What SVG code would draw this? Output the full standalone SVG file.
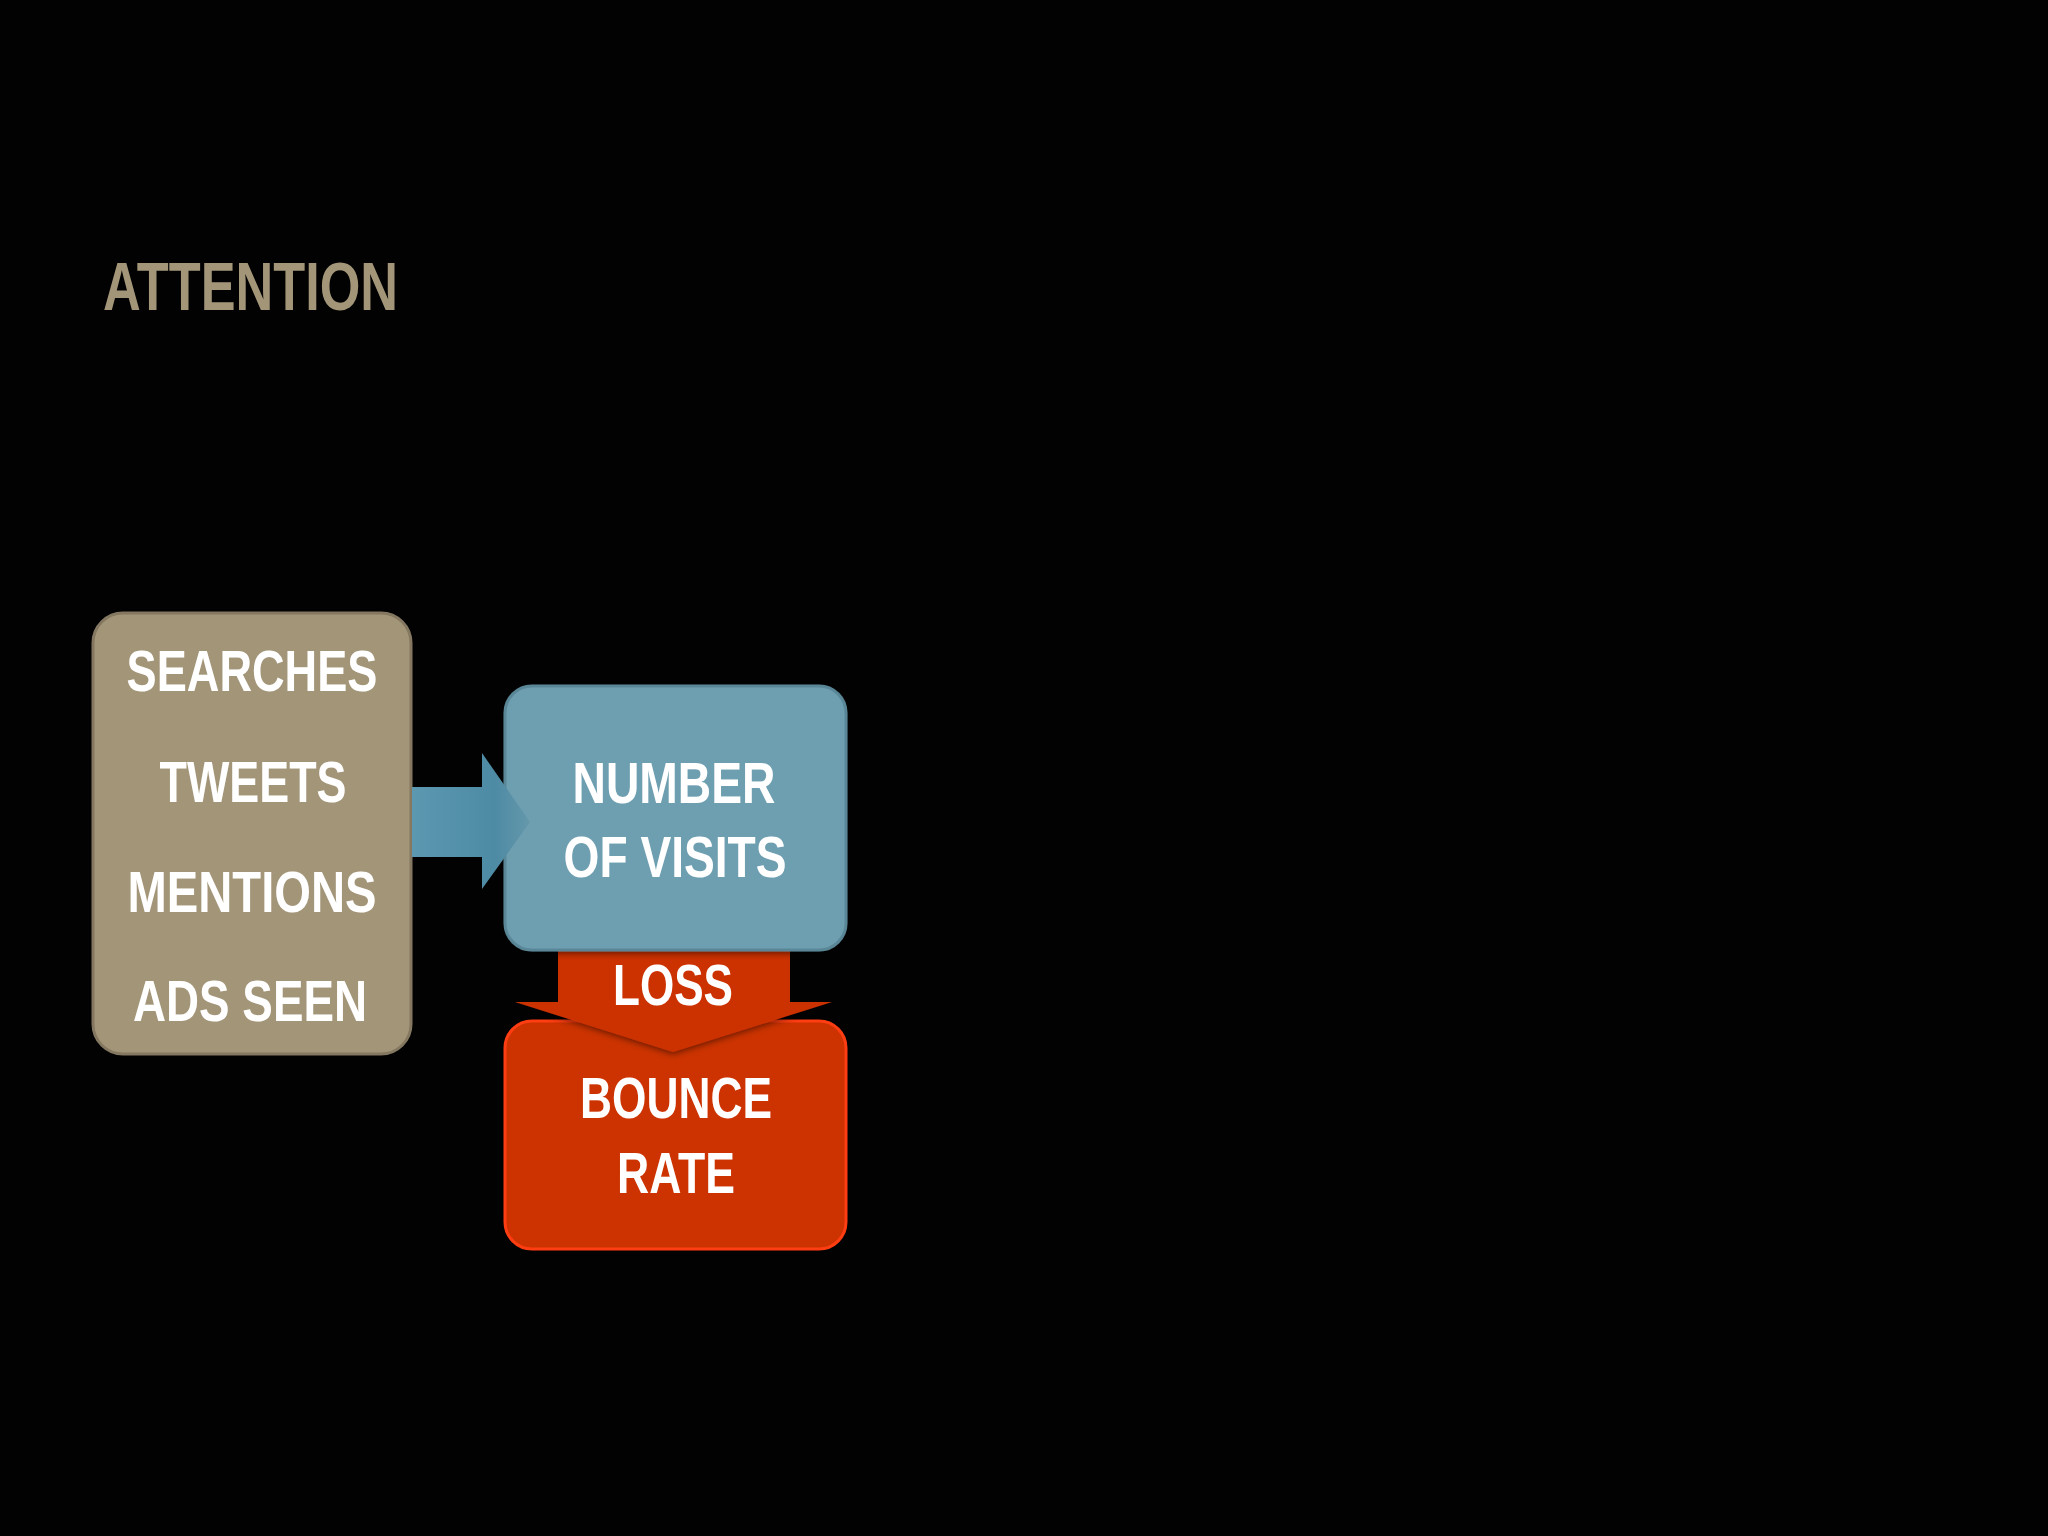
<svg xmlns="http://www.w3.org/2000/svg" width="2048" height="1536" viewBox="0 0 2048 1536">
<style>
.t{font-family:"Liberation Sans",Arial,sans-serif;font-weight:bold;fill:#ffffff;font-size:57px;text-anchor:middle}
.title{font-family:"Liberation Sans",Arial,sans-serif;font-weight:bold;fill:#a39578;font-size:68px}
</style>
<defs>
<linearGradient id="blueArrow" x1="0" y1="0" x2="1" y2="0">
<stop offset="0" stop-color="#5c98b0"/>
<stop offset="0.7" stop-color="#4d8aa4"/>
<stop offset="1" stop-color="#6598ab"/>
</linearGradient>
<filter id="sh" x="-10%" y="-10%" width="120%" height="120%">
<feDropShadow dx="0" dy="2" stdDeviation="3" flood-color="#000" flood-opacity="0.5"/>
</filter>
</defs>
<rect width="2048" height="1536" fill="#020202"/>
<text class="title" x="103" y="310" textLength="295" lengthAdjust="spacingAndGlyphs">ATTENTION</text>
<g id="node-sources">
<rect x="93" y="613" width="318" height="441" rx="30" fill="#a39578" stroke="#847861" stroke-width="3"/>
<text class="t" x="252" y="691" textLength="251" lengthAdjust="spacingAndGlyphs">SEARCHES</text>
<text class="t" x="253" y="802" textLength="187" lengthAdjust="spacingAndGlyphs">TWEETS</text>
<text class="t" x="252" y="912" textLength="249" lengthAdjust="spacingAndGlyphs">MENTIONS</text>
<text class="t" x="250" y="1021" textLength="234" lengthAdjust="spacingAndGlyphs">ADS SEEN</text>
</g>
<g id="node-bounce">
<rect x="505" y="1021" width="341" height="228" rx="27" fill="#cc3300" stroke="#ff3d12" stroke-width="3"/>
<text class="t" x="676" y="1118" textLength="192" lengthAdjust="spacingAndGlyphs">BOUNCE</text>
<text class="t" x="676" y="1193" textLength="118" lengthAdjust="spacingAndGlyphs">RATE</text>
</g>
<g id="loss-arrow">
<path d="M558 940 H790 V1002 H832 L673 1052 L515 1002 H558 Z" fill="#cc3300" filter="url(#sh)"/>
<text class="t" x="673" y="1005" textLength="120" lengthAdjust="spacingAndGlyphs">LOSS</text>
</g>
<g id="node-visits">
<rect x="505" y="686" width="341" height="264" rx="27" fill="#6e9fb0" stroke="#5a8797" stroke-width="3" filter="url(#sh)"/>
<text class="t" x="674" y="803" textLength="203" lengthAdjust="spacingAndGlyphs">NUMBER</text>
<text class="t" x="675" y="877" textLength="223" lengthAdjust="spacingAndGlyphs">OF VISITS</text>
</g>
<g id="connectors">
<path id="arrow-attention-visits" d="M412 787 H482 V753 L530 822 L482 889 V857 H412 Z" fill="url(#blueArrow)"/>
</g>
</svg>
